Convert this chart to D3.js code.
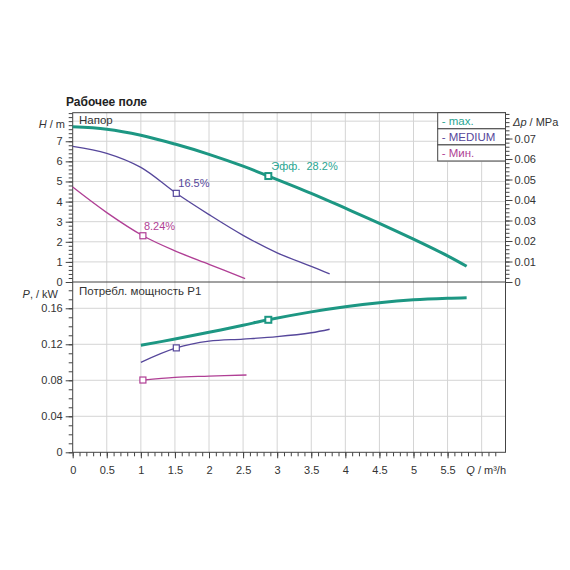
<!DOCTYPE html>
<html><head><meta charset="utf-8">
<script src="https://cdn.jsdelivr.net/npm/d3@7"></script>
<style>
html,body{margin:0;padding:0;background:#fff;}
text{font-family:"Liberation Sans",Arial,sans-serif;white-space:pre;}
</style></head>
<body><svg id="c" width="570" height="570"></svg>
<script>
// ---- data ----
const qTicks = [0,0.5,1,1.5,2,2.5,3,3.5,4,4.5,5,5.5];
const hTicks = [0,1,2,3,4,5,6,7];
const pTicks = [0,0.04,0.08,0.12,0.16];
const dpTicks = [0,0.01,0.02,0.03,0.04,0.05,0.06,0.07];

const seriesNames = ["max.","MEDIUM","Мин."];
const maxQ = [0,0.5,1,1.5,2,2.5,2.87,3.5,4,4.5,5,5.5,5.78];
const maxH = [7.72,7.6,7.3,6.86,6.35,5.76,5.27,4.41,3.67,2.92,2.13,1.3,0.78];
const medQ = [0,0.5,1,1.52,2,2.5,3,3.5,3.77];
const medH = [6.75,6.4,5.7,4.41,3.35,2.32,1.45,0.78,0.4];
const minQ = [0,0.5,1.03,1.5,2,2.53];
const minH = [4.72,3.45,2.3,1.55,0.88,0.17];

const maxPQ = [1,1.5,2,2.5,2.87,3.5,4,4.5,5,5.5,5.78];
const maxP = [0.119,0.1258,0.1333,0.1412,0.1472,0.1560,0.1617,0.1662,0.1694,0.1712,0.1718];
const medPQ = [1,1.52,2,2.5,3,3.5,3.77];
const medP = [0.100,0.116,0.1235,0.1258,0.1285,0.1328,0.1367];
const minPQ = [1.03,1.5,2,2.55];
const minP = [0.0803,0.0833,0.0846,0.0859];

const effLabels = ["Эфф.  28.2%","16.5%","8.24%"];
const effQ = [2.87,1.52,1.03];
const effH = [5.27,4.41,2.3];
const effPQ = [2.87,1.52,1.03];
const effP = [0.1472,0.116,0.0803];

const colors = ["#1d9783","#56479b","#b03f95"];
const legendColors = ["#2aa592","#56479b","#b03f95"];

// ---- layout ----
const svg = d3.select("#c");
const L=72.7, R=505.5, T=112.7, M=282, B=452.3;
const x = d3.scaleLinear().domain([0,6.35]).range([L,R]);
const yH = d3.scaleLinear().domain([0,8.42]).range([M,T]);
const yDp = d3.scaleLinear().domain([0,8.42*0.00981]).range([M,T]);
const yP = d3.scaleLinear().domain([0,0.1892]).range([B,M]);

const grid="#d4d4d4", axisC="#444";

// grids
const gx = d3.range(0.5,6.01,0.5);
svg.append("g").selectAll("line").data(gx).join("line")
  .attr("x1",d=>x(d)).attr("x2",d=>x(d)).attr("y1",T).attr("y2",B)
  .attr("stroke",grid).attr("stroke-width",1);
svg.append("g").selectAll("line").data([1,2,3,4,5,6,7,8]).join("line")
  .attr("x1",L).attr("x2",R).attr("y1",d=>yH(d)).attr("y2",d=>yH(d))
  .attr("stroke",grid).attr("stroke-width",1);
svg.append("g").selectAll("line").data([0.04,0.08,0.12,0.16]).join("line")
  .attr("x1",L).attr("x2",R).attr("y1",d=>yP(d)).attr("y2",d=>yP(d))
  .attr("stroke",grid).attr("stroke-width",1);

// frames
svg.append("rect").attr("x",L).attr("y",T).attr("width",R-L).attr("height",B-T)
  .attr("fill","none").attr("stroke",axisC).attr("stroke-width",1);
svg.append("line").attr("x1",L).attr("x2",R).attr("y1",M).attr("y2",M).attr("stroke",axisC);

// axes
const fs = 11;
function styleAxis(g){
  g.select(".domain").remove();
  g.selectAll(".tick line").attr("stroke",axisC);
  g.selectAll(".tick text").attr("fill","#333").style("font-size",fs+"px")
   .style("font-family","'Liberation Sans',Arial,sans-serif");
}
svg.append("g").attr("transform",`translate(0,${B})`)
  .call(d3.axisBottom(x).tickValues(qTicks).tickSize(6).tickPadding(8).tickFormat(d3.format("~g")))
  .call(styleAxis);
svg.append("g").attr("transform",`translate(0,${B})`)
  .call(d3.axisBottom(x).tickValues(d3.range(0,63).map(i=>i/10).filter(v=>x(v)<=R)).tickSize(4).tickFormat(""))
  .call(styleAxis);
svg.append("g").attr("transform",`translate(${L},0)`)
  .call(d3.axisLeft(yH).tickValues(hTicks).tickSize(7).tickPadding(3).tickFormat(d3.format("~g")))
  .call(styleAxis);
svg.append("g").attr("transform",`translate(${L},0)`)
  .call(d3.axisLeft(yH).tickValues(d3.range(0,43).map(i=>i/5).filter(v=>yH(v)>=T)).tickSize(4).tickFormat(""))
  .call(styleAxis);
svg.append("g").attr("transform",`translate(${L},0)`)
  .call(d3.axisLeft(yP).tickValues(pTicks).tickSize(7).tickPadding(3).tickFormat(d3.format("~g")))
  .call(styleAxis);
svg.append("g").attr("transform",`translate(${L},0)`)
  .call(d3.axisLeft(yP).tickValues(d3.range(0,19).map(i=>i/100)).tickSize(4).tickFormat(""))
  .call(styleAxis);
svg.append("g").attr("transform",`translate(${R},0)`)
  .call(d3.axisRight(yDp).tickValues(dpTicks).tickSize(7).tickPadding(2).tickFormat(d3.format("~g")))
  .call(styleAxis);
svg.append("g").attr("transform",`translate(${R},0)`)
  .call(d3.axisRight(yDp).tickValues(d3.range(0,42).map(i=>i*0.002).filter(v=>yDp(v)>=T-0.5)).tickSize(4).tickFormat(""))
  .call(styleAxis);

// text helper
const lab = (xx,yy,txt,anchor,opts={})=>{
  const t=svg.append("text").attr("x",xx).attr("y",yy).attr("text-anchor",anchor||"start")
   .style("font-size",(opts.size||fs)+"px").attr("fill",opts.fill||"#333");
  if(opts.bold) t.style("font-weight","bold");
  if(txt) t.text(txt);
  return t;
};
let t1 = lab(65,128,"","end"); t1.append("tspan").style("font-style","italic").text("H"); t1.append("tspan").text(" / m");
let t2 = lab(58,298,"","end"); t2.append("tspan").style("font-style","italic").text("P"); t2.append("tspan").text(", / kW");
let t3 = lab(513,126,"","start"); t3.append("tspan").style("font-style","italic").text("Δp"); t3.append("tspan").text(" / MPa");
let t4 = lab(506,474,"","end"); t4.append("tspan").style("font-style","italic").text("Q"); t4.append("tspan").text(" / m³/h");
lab(66,106,"Рабочее поле","start",{bold:true,size:12,fill:"#222"});
lab(79,124,"Напор","start",{size:11.5});
lab(79,295,"Потребл. мощность P1","start",{size:11.5});

// curves
const line = (xs,ys,yS)=>d3.line().curve(d3.curveCatmullRom.alpha(0.5))(xs.map((q,i)=>[x(q),yS(ys[i])]));
const hSets=[[maxQ,maxH],[medQ,medH],[minQ,minH]];
const pSets=[[maxPQ,maxP],[medPQ,medP],[minPQ,minP]];
const widths=[3,1.3,1.3];
hSets.forEach((s,i)=>{
  svg.append("path").attr("d",line(s[0],s[1],yH)).attr("fill","none")
    .attr("stroke",colors[i]).attr("stroke-width",widths[i]);
});
pSets.forEach((s,i)=>{
  svg.append("path").attr("d",line(s[0],s[1],yP)).attr("fill","none")
    .attr("stroke",colors[i]).attr("stroke-width",widths[i]);
});
// markers
[0,1,2].forEach(i=>{
  const sz = 6, sw = i===0?2:1.2;
  [[effQ[i],yH(effH[i])],[effPQ[i],yP(effP[i])]].forEach(([q,yy])=>{
    svg.append("rect").attr("x",x(q)-sz/2).attr("y",yy-sz/2).attr("width",sz).attr("height",sz)
      .attr("fill","#fff").attr("stroke",colors[i]).attr("stroke-width",sw);
  });
});
// efficiency labels
const effOff=[[3,-6],[2,-6],[1,-6]];
[0,1,2].forEach(i=>{
  lab(x(effQ[i])+effOff[i][0],yH(effH[i])+effOff[i][1],effLabels[i],"start",{fill:legendColors[i],size:11});
});

// legend
const lgX=437.7, lgY=112.7, lgH=16.1, lgW=R-lgX;
seriesNames.forEach((n,i)=>{
  svg.append("rect").attr("x",lgX).attr("y",lgY+i*lgH).attr("width",lgW).attr("height",lgH)
    .attr("fill","#fff").attr("stroke",axisC).attr("stroke-width",1);
  lab(lgX+4,lgY+i*lgH+12,"- "+n,"start",{fill:legendColors[i],size:11.5});
});
</script></body></html>
